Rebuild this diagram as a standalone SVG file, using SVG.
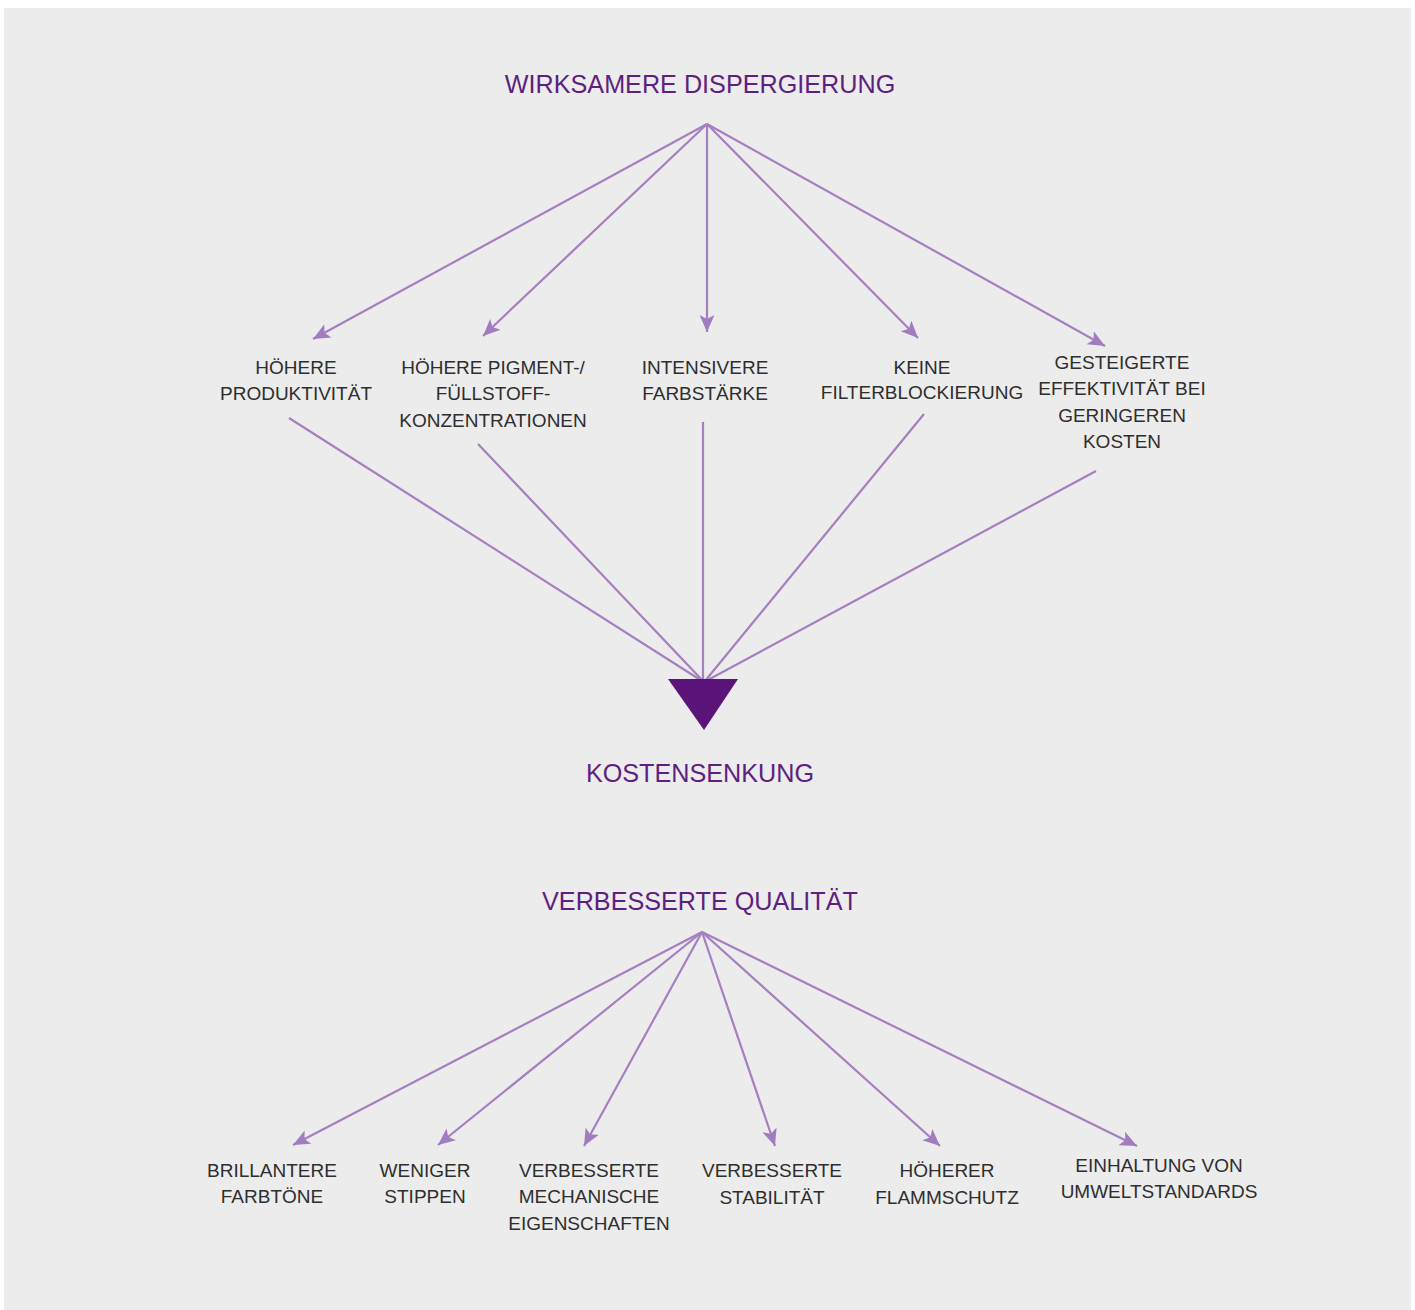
<svg xmlns="http://www.w3.org/2000/svg" width="1415" height="1310" viewBox="0 0 1415 1310">
<defs>
<style>
.head{font-family:"Liberation Sans",Arial,sans-serif;font-size:25.2px;fill:#5e1f80;text-anchor:middle}
.lbl{font-family:"Liberation Sans",Arial,sans-serif;font-size:19px;fill:#2e2e2e;text-anchor:middle}
.con{stroke:#a57fc0;stroke-width:2.2;fill:none}
.arr{marker-end:url(#ah)}
</style>
<marker id="ah" markerUnits="userSpaceOnUse" markerWidth="18" markerHeight="16" refX="17" refY="8" orient="auto">
<path d="M0,0.5 L17,8 L0,15.5 L4,8 z" fill="#a27cc1"/>
</marker>
</defs>
<rect x="0" y="0" width="1415" height="1310" fill="#ffffff"/>
<rect x="4" y="8" width="1407" height="1302" fill="#ececec"/>

<g id="connectors">
<line class="con arr" x1="707" y1="124" x2="313" y2="339"/>
<line class="con arr" x1="707" y1="124" x2="483" y2="336"/>
<line class="con arr" x1="707" y1="124" x2="707" y2="332"/>
<line class="con arr" x1="707" y1="124" x2="918" y2="338"/>
<line class="con arr" x1="707" y1="124" x2="1105" y2="346"/>
<line class="con" x1="289" y1="418" x2="702" y2="681"/>
<line class="con" x1="478" y1="444" x2="703" y2="681"/>
<line class="con" x1="703" y1="422" x2="703" y2="681"/>
<line class="con" x1="924" y1="414" x2="705" y2="681"/>
<line class="con" x1="1096" y1="471" x2="706" y2="681"/>
<line class="con arr" x1="702" y1="932" x2="293" y2="1145"/>
<line class="con arr" x1="702" y1="932" x2="438" y2="1145"/>
<line class="con arr" x1="702" y1="932" x2="584" y2="1146"/>
<line class="con arr" x1="702" y1="932" x2="775" y2="1146"/>
<line class="con arr" x1="702" y1="932" x2="940" y2="1146"/>
<line class="con arr" x1="702" y1="932" x2="1137" y2="1146"/>
</g>

<g id="wirksamere"><text class="head" x="700" y="93">WIRKSAMERE DISPERGIERUNG</text></g>

<g id="produktivitaet"><text class="lbl" x="296" y="374">HÖHERE</text><text class="lbl" x="296" y="400">PRODUKTIVITÄT</text></g>
<g id="pigment"><text class="lbl" x="493" y="374">HÖHERE PIGMENT-/</text><text class="lbl" x="493" y="400">FÜLLSTOFF-</text><text class="lbl" x="493" y="427">KONZENTRATIONEN</text></g>
<g id="farbstaerke"><text class="lbl" x="705" y="374">INTENSIVERE</text><text class="lbl" x="705" y="400">FARBSTÄRKE</text></g>
<g id="filter"><text class="lbl" x="922" y="374">KEINE</text><text class="lbl" x="922" y="399">FILTERBLOCKIERUNG</text></g>
<g id="effektivitaet"><text class="lbl" x="1122" y="369">GESTEIGERTE</text><text class="lbl" x="1122" y="395">EFFEKTIVITÄT BEI</text><text class="lbl" x="1122" y="422">GERINGEREN</text><text class="lbl" x="1122" y="448">KOSTEN</text></g>

<g id="kostensenkung">
<polygon points="668,679 738,679 704,730" fill="#5b1479"/>
<text class="head" x="700" y="782">KOSTENSENKUNG</text>
</g>

<g id="qualitaet"><text class="head" x="700" y="910">VERBESSERTE QUALITÄT</text></g>

<g id="farbtoene"><text class="lbl" x="272" y="1177">BRILLANTERE</text><text class="lbl" x="272" y="1203">FARBTÖNE</text></g>
<g id="stippen"><text class="lbl" x="425" y="1177">WENIGER</text><text class="lbl" x="425" y="1203">STIPPEN</text></g>
<g id="mechanisch"><text class="lbl" x="589" y="1177">VERBESSERTE</text><text class="lbl" x="589" y="1203">MECHANISCHE</text><text class="lbl" x="589" y="1230">EIGENSCHAFTEN</text></g>
<g id="stabilitaet"><text class="lbl" x="772" y="1177">VERBESSERTE</text><text class="lbl" x="772" y="1204">STABILITÄT</text></g>
<g id="flammschutz"><text class="lbl" x="947" y="1177">HÖHERER</text><text class="lbl" x="947" y="1204">FLAMMSCHUTZ</text></g>
<g id="umwelt"><text class="lbl" x="1159" y="1172">EINHALTUNG VON</text><text class="lbl" x="1159" y="1198">UMWELTSTANDARDS</text></g>
</svg>
